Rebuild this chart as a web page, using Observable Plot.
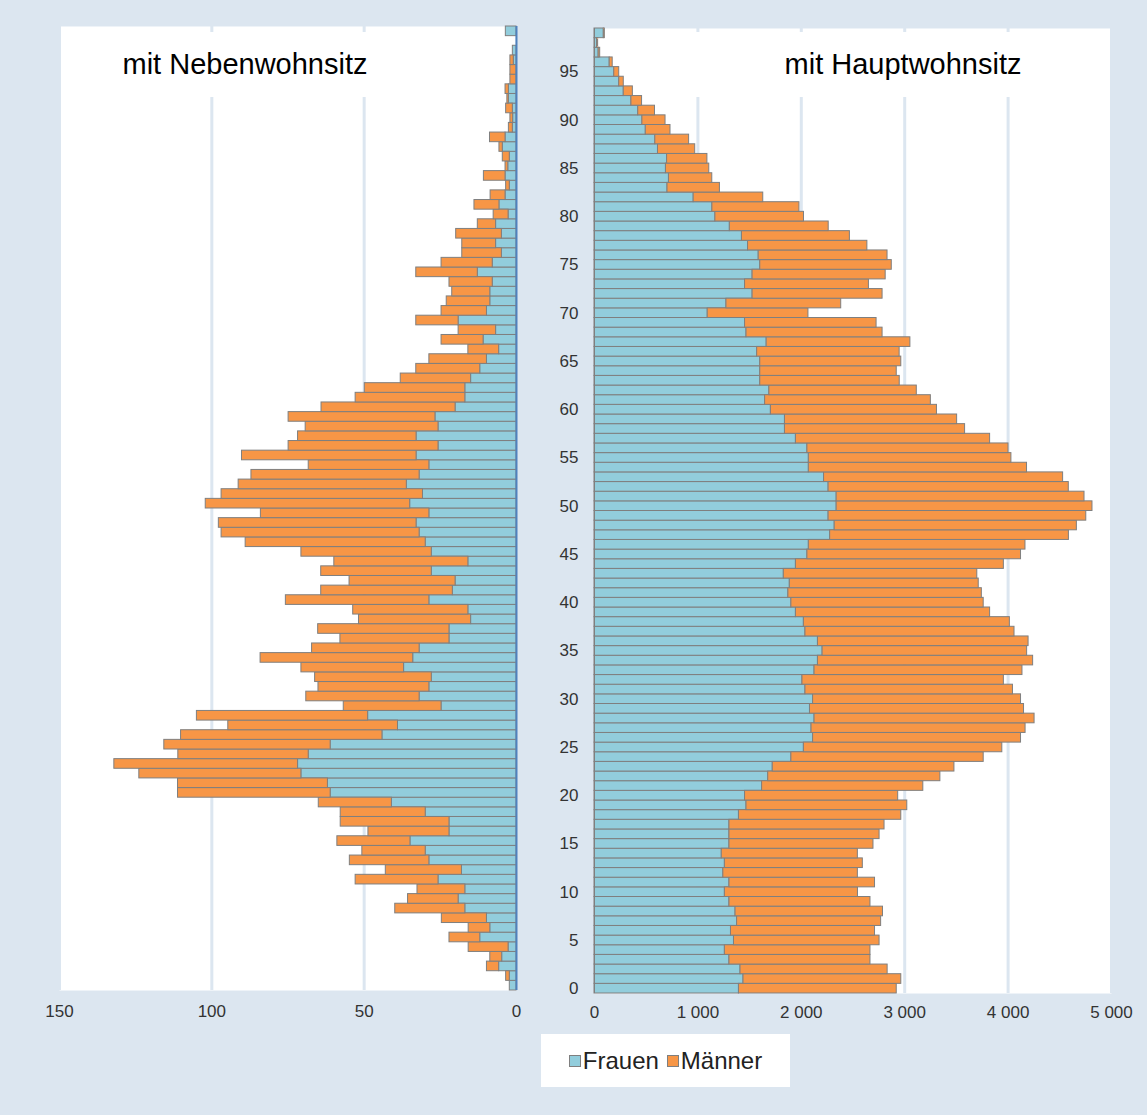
<!DOCTYPE html>
<html><head><meta charset="utf-8">
<script src="https://cdn.jsdelivr.net/npm/d3@7"></script>
<script src="https://cdn.jsdelivr.net/npm/@observablehq/plot@0.6"></script>
<style>
html,body{margin:0;padding:0;background:#dce6f0;}
#chart{position:relative;width:1147px;height:1115px;background:#dce6f0;font-family:"Liberation Sans",Arial,sans-serif;overflow:hidden;}
#chart svg{position:absolute;left:0;top:0;}
.tbox{position:absolute;background:#fff;top:32px;height:65px;}
.title{position:absolute;top:32px;height:65px;line-height:65px;width:400px;text-align:center;font-size:29px;color:#000;white-space:nowrap;}
.legend{position:absolute;left:541px;top:1034px;width:249px;height:53px;background:#fff;display:flex;align-items:center;justify-content:center;font-size:24px;color:#222;}
.sw{display:inline-block;width:10px;height:10px;border:1px solid #7f7f7f;margin-right:2px;}
.item{display:flex;align-items:center;margin:0 4px;}
</style></head>
<body><div id="chart"></div>
<script>
const ages = [0,1,2,3,4,5,6,7,8,9,10,11,12,13,14,15,16,17,18,19,20,21,22,23,24,25,26,27,28,29,30,31,32,33,34,35,36,37,38,39,40,41,42,43,44,45,46,47,48,49,50,51,52,53,54,55,56,57,58,59,60,61,62,63,64,65,66,67,68,69,70,71,72,73,74,75,76,77,78,79,80,81,82,83,84,85,86,87,88,89,90,91,92,93,94,95,96,97,98,99];
const ageTicks = [0,5,10,15,20,25,30,35,40,45,50,55,60,65,70,75,80,85,90,95];
const sexes = ["Frauen","Männer"];
const colors = ["#92cddc","#f79646"];
const leftTicks = [0,50,100,150];
const rightTicks = [0,1000,2000,3000,4000,5000];
const leftTitle = "mit Nebenwohnsitz";
const rightTitle = "mit Hauptwohnsitz";

// Nebenwohnsitz, ages 0..99
const nebenFrauen = [2.2,2.2,5.7,4.7,2.6,11.9,8.6,9.7,16.8,19.0,
16.8,25.6,17.9,28.6,29.8,34.8,22.0,22.0,29.8,40.9,
61.0,61.9,70.6,71.7,68.2,61.0,44.0,38.9,48.7,24.6,
31.8,28.6,27.8,36.9,33.9,31.8,22.0,22.0,14.9,15.8,
28.6,20.9,20.0,27.8,15.8,27.8,29.8,31.8,32.8,28.6,
34.9,30.7,36.0,31.8,28.6,32.8,25.6,32.8,25.6,26.6,
20.0,16.8,16.8,14.9,11.9,9.7,5.7,10.8,6.7,19.0,
9.7,8.6,8.6,7.8,12.7,7.8,4.8,6.7,4.8,6.7,
2.6,5.6,3.6,2.2,3.6,2.7,2.2,4.5,3.6,1.2,
1.1,1.2,2.5,2.5,0,0,0.9,1.2,0,3.5];
const nebenMaenner = [0,1.2,4.0,3.9,13.1,10.1,7.1,14.8,23.0,16.6,
15.7,27.2,25.0,26.1,20.8,24.0,26.6,35.7,27.9,24.0,
50.1,49.2,53.2,60.3,42.8,54.6,66.1,55.7,56.2,32.1,
37.2,36.4,38.3,33.7,50.1,35.3,35.8,43.1,36.8,37.8,
47.1,43.2,34.8,36.3,44.0,42.8,59.1,65.0,64.9,55.3,
67.1,66.1,55.2,55.2,39.6,57.3,49.2,38.9,43.6,48.2,
44.0,36.0,33.0,23.1,21.0,18.9,10.1,13.8,12.3,13.9,
14.9,14.3,12.5,14.2,20.2,16.8,13.0,11.1,15.0,6.0,
4.9,8.2,4.9,1.2,7.1,0.9,2.3,1.1,5.1,1.3,
0.9,2.2,0.5,1.1,2,2,1.1,0,0,0];

// Hauptwohnsitz, ages 0..99
const hauptFrauen = [1397,1441,1412,1305,1261,1349,1320,1379,1364,1305,
1261,1305,1246,1261,1231,1305,1305,1305,1397,1470,
1456,1621,1680,1724,1904,2025,2114,2099,2128,2084,
2114,2040,2011,2128,2161,2206,2161,2040,2025,1948,
1904,1875,1889,1831,1948,2059,2073,2279,2323,2264,
2342,2342,2264,2220,2073,2073,2059,1948,1842,1842,
1706,1650,1691,1603,1603,1603,1573,1665,1470,1456,
1095,1276,1529,1456,1529,1603,1588,1485,1426,1309,
1169,1140,959,706,720,691,702,614,588,496,
463,423,357,283,239,191,147,40,25,90];
const hauptMaenner = [1526,1526,1423,1364,1408,1408,1393,1393,1426,1364,
1287,1408,1301,1334,1316,1393,1452,1500,1570,1555,
1481,1559,1665,1757,1860,1919,2011,2070,2128,2070,
2011,2007,1948,2011,2081,1978,2037,2022,1992,1878,
1860,1871,1827,1871,2011,2066,2095,2309,2342,2492,
2474,2397,2323,2312,2110,1959,1945,1878,1742,1665,
1606,1603,1426,1349,1320,1364,1378,1390,1316,1272,
974,1110,1257,1198,1287,1272,1246,1154,1044,956,
857,842,673,507,419,419,390,360,327,239,
224,162,103,88,44,48,29,15,10,10];

const W = 1147, H = 1115;
const FONT = '"Liberation Sans", Arial, sans-serif';
const fmt = d3.formatLocale({decimal: ",", thousands: " ", grouping: [3], currency: ["", "€"]}).format(",d");
const agesTopDown = ages.slice().reverse();

function rows(f, m) {
  return [
    ...ages.map((a, i) => ({age: a, sex: sexes[0], value: f[i]})),
    ...ages.map((a, i) => ({age: a, sex: sexes[1], value: m[i]}))
  ].filter(d => d.value > 0);
}

const chart = document.getElementById("chart");

const leftPlot = Plot.plot({
  width: W, height: H,
  marginLeft: 59, marginRight: W - 516, marginTop: 26, marginBottom: H - 990,
  style: {background: "transparent", fontFamily: FONT, fontSize: "17px", color: "#333", overflow: "visible"},
  x: {domain: [0, 150], reverse: true},
  y: {domain: agesTopDown, padding: 0, axis: null},
  color: {domain: sexes, range: colors},
  marks: [
    Plot.frame({fill: "white", stroke: "none"}),
    Plot.ruleX(leftTicks, {stroke: "#dce6f0", strokeWidth: 3}),
    Plot.barX(rows(nebenFrauen, nebenMaenner), {y: "age", x: "value", fill: "sex", stroke: "#7f7f7f", strokeWidth: 1}),
    Plot.ruleX([0], {stroke: "#4f81bd", strokeWidth: 2}),
    Plot.axisX(leftTicks, {anchor: "bottom", tickSize: 0, tickPadding: 14, tickFormat: fmt, label: null, fontSize: 17})
  ]
});

const rightPlot = Plot.plot({
  width: W, height: H,
  marginLeft: 594, marginRight: W - 1111, marginTop: 28, marginBottom: H - 993,
  style: {background: "transparent", fontFamily: FONT, fontSize: "17px", color: "#333", overflow: "visible"},
  x: {domain: [0, 5000]},
  y: {domain: agesTopDown, padding: 0},
  color: {domain: sexes, range: colors},
  marks: [
    Plot.frame({fill: "white", stroke: "none"}),
    Plot.ruleX(rightTicks, {stroke: "#dce6f0", strokeWidth: 3}),
    Plot.barX(rows(hauptFrauen, hauptMaenner), {y: "age", x: "value", fill: "sex", stroke: "#7f7f7f", strokeWidth: 1}),
    Plot.ruleX([0], {stroke: "#7f7f7f", strokeWidth: 1}),
    Plot.axisX(rightTicks, {anchor: "bottom", tickSize: 0, tickPadding: 12, tickFormat: fmt, label: null, fontSize: 17}),
    Plot.axisY(ageTicks, {anchor: "left", tickSize: 0, tickPadding: 16, label: null, fontSize: 17})
  ]
});

chart.appendChild(leftPlot);
chart.appendChild(rightPlot);

function addDiv(cls, css, text) {
  const d = document.createElement("div");
  d.className = cls;
  Object.assign(d.style, css);
  if (text != null) d.textContent = text;
  chart.appendChild(d);
  return d;
}
addDiv("tbox", {left: "95px", width: "300px"});
addDiv("tbox", {left: "686px", width: "420px"});
addDiv("title", {left: "45px"}, leftTitle);
addDiv("title", {left: "703px"}, rightTitle);

const legend = addDiv("legend", {});
sexes.forEach((s, i) => {
  const it = document.createElement("div");
  it.className = "item";
  const sw = document.createElement("span");
  sw.className = "sw";
  sw.style.background = colors[i];
  const tx = document.createElement("span");
  tx.textContent = s;
  it.appendChild(sw); it.appendChild(tx);
  legend.appendChild(it);
});
</script>
</body></html>
